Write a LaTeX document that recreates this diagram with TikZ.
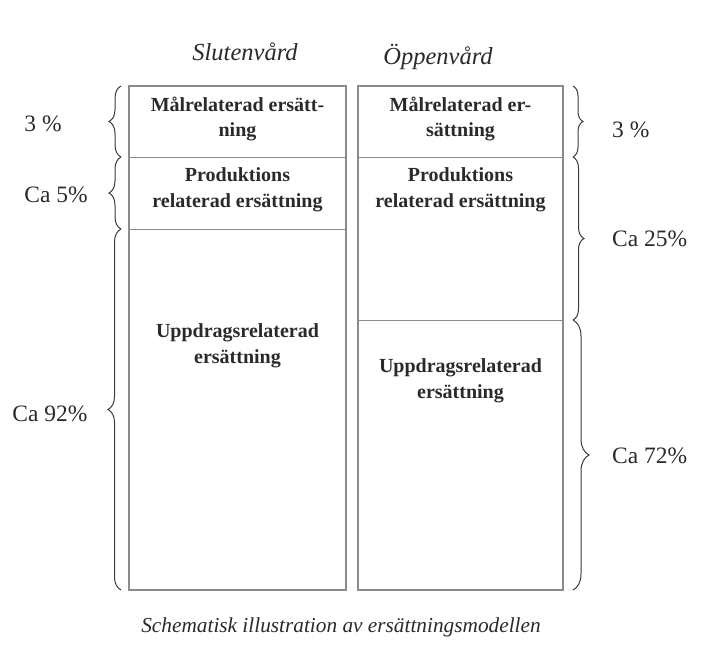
\documentclass[tikz,border=0pt]{standalone}
\usepackage{fontspec}
\setmainfont{Liberation Serif}
\usetikzlibrary{decorations.pathreplacing}
\definecolor{boxline}{HTML}{8C8C8C}
\definecolor{bracecol}{HTML}{3A3A3A}
\definecolor{txt}{HTML}{2A2A2A}
\tikzset{
  col/.style={draw=boxline, line width=1.1pt},
  sep/.style={draw=boxline, line width=0.9pt},
  boxtext/.style={align=center, text=txt, font=\fontsize{20}{25.5}\selectfont\bfseries, inner sep=0pt},
  pct/.style={text=txt, font=\fontsize{23.5}{26}\selectfont, inner sep=0pt},
  head/.style={text=txt, font=\fontsize{24.5}{26}\selectfont\itshape, inner sep=0pt},
  captext/.style={text=txt, font=\fontsize{21.3}{24}\selectfont\itshape, inner sep=0pt},
  bracel/.style={draw=bracecol, line width=1pt, decorate, decoration={brace, amplitude=#1}},
}
\begin{document}
\begin{tikzpicture}[x=1pt,y=-1pt]
\useasboundingbox (0,0) rectangle (722,662);
% columns
\draw[col] (129,86) rectangle (346,590);
\draw[col] (358,86) rectangle (563,590);
\draw[sep] (129,157) -- (346,157);
\draw[sep] (129,229) -- (346,229);
\draw[sep] (358,157) -- (563,157);
\draw[sep] (358,320) -- (563,320);
% headers
\node[head] (h1) at (245,52) {Slutenvård};
\node[head] (h2) at (438,57) {Öppenvård};
% box texts
\node[boxtext] (l1) at (237.5,119) {Målrelaterad ersätt-\\ning};
\node[boxtext] (l2) at (237.5,190) {Produktions\\relaterad ersättning};
\node[boxtext] (l3) at (237.5,346) {Uppdragsrelaterad\\ersättning};
\node[boxtext] (r1) at (460.5,119) {Målrelaterad er-\\sättning};
\node[boxtext] (r2) at (460.5,190) {Produktions\\relaterad ersättning};
\node[boxtext] (r3) at (460.5,381) {Uppdragsrelaterad\\ersättning};
% left braces
\coordinate (la) at (121,86);
\coordinate (lb) at (121,157);
\coordinate (lc) at (121,229);
\coordinate (ld) at (121,590);
\draw[bracel=12] (lb) -- (la);
\draw[bracel=12] (lc) -- (lb);
\draw[bracel=13] (ld) -- (lc);
% right braces
\coordinate (ra) at (573,86);
\coordinate (rb) at (573,157);
\coordinate (rc) at (573,320);
\coordinate (rd) at (573,590);
\draw[bracel=10] (ra) -- (rb);
\draw[bracel=11] (rb) -- (rc);
\draw[bracel=16] (rc) -- (rd);
% percentages
\node[pct] (p1) at (43,124) {3 \%};
\node[pct] (p2) at (56,195) {Ca 5\%};
\node[pct] (p3) at (50,414) {Ca 92\%};
\node[pct, anchor=west] (p4) at (612,130) {3 \%};
\node[pct, anchor=west] (p5) at (612,239) {Ca 25\%};
\node[pct, anchor=west] (p6) at (612,456) {Ca 72\%};
% caption
\node[captext] (cap) at (341,627) {Schematisk illustration av ersättningsmodellen};
\end{tikzpicture}
\end{document}
